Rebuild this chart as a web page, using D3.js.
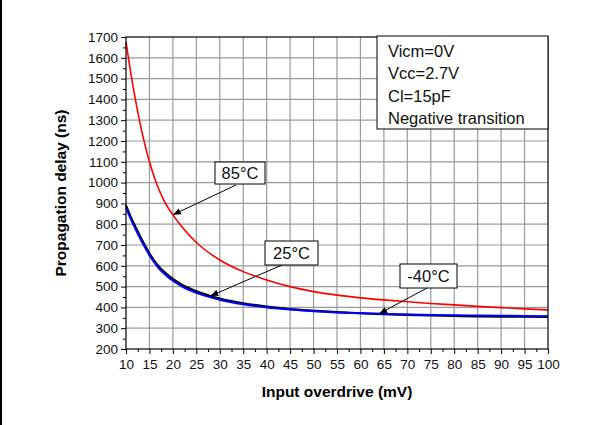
<!DOCTYPE html>
<html>
<head>
<meta charset="utf-8">
<script src="https://cdn.jsdelivr.net/npm/d3@7"></script>
<style>
  body { margin: 0; background: #fff; }
  svg { display: block; font-family: "Liberation Sans", Arial, sans-serif; }
</style>
</head>
<body>
<script>
// input overdrive (mV) sample points
var overdrive = [10, 11, 12, 13, 14, 15, 16, 17, 18, 19, 20, 22, 25, 30, 35, 40, 45, 50, 55, 60, 65, 70, 75, 80, 85, 90, 95, 100];
// propagation delay (ns) per temperature
var delay85 = [1675, 1530, 1400, 1285, 1185, 1100, 1028, 968, 918, 878, 845, 785, 712, 628, 572, 532, 500, 476, 459, 446, 436, 427, 419, 412, 405, 399, 393, 388];
var delay25 = [890, 835, 788, 742, 700, 660, 625, 597, 573, 554, 537, 508, 478, 443, 420, 404, 392, 384, 377, 372, 368, 364, 361, 359, 357, 356, 355, 354];
var delayM40 = [880, 826, 778, 732, 690, 651, 617, 588, 565, 545, 528, 500, 470, 437, 415, 400, 390, 382, 376, 372, 369, 366, 364, 362, 361, 360, 359, 358];

var xTicks = d3.range(10, 101, 5);
var yTicks = d3.range(200, 1701, 100);
var infoLines = ["Vicm=0V", "Vcc=2.7V", "Cl=15pF", "Negative transition"];

var width = 609,
    height = 425;

var svg = d3.select("body")
  .append("svg")
  .attr("width", width)
  .attr("height", height);

// black strip at the left edge of the scan
svg.append("rect")
    .attr("x", 0).attr("y", 0)
    .attr("width", 2).attr("height", height)
    .attr("fill", "#000");

var x = d3.scaleLinear().domain([10, 100]).range([126, 548]);
var y = d3.scaleLinear().domain([200, 1700]).range([349, 37]);

// grid
svg.append("g")
  .selectAll("line")
  .data(xTicks.slice(1, -1))
  .enter().append("line")
    .attr("x1", function(d) { return x(d); })
    .attr("x2", function(d) { return x(d); })
    .attr("y1", y(200)).attr("y2", y(1700))
    .attr("stroke", "#9a9a9a")
    .attr("stroke-width", 1.2);

svg.append("g")
  .selectAll("line")
  .data(yTicks.slice(1, -1))
  .enter().append("line")
    .attr("y1", function(d) { return y(d); })
    .attr("y2", function(d) { return y(d); })
    .attr("x1", x(10)).attr("x2", x(100))
    .attr("stroke", "#9a9a9a")
    .attr("stroke-width", 1.2);

// minor ticks
svg.append("g")
    .attr("transform", "translate(0," + y(200) + ")")
    .call(d3.axisBottom(x).tickValues(d3.range(12.5, 100, 5)).tickSize(3).tickFormat(""))
    .call(function(g) { g.select(".domain").remove(); g.selectAll("line").attr("stroke", "#000"); });

svg.append("g")
    .attr("transform", "translate(" + x(10) + ",0)")
    .call(d3.axisLeft(y).tickValues(d3.range(250, 1700, 100)).tickSize(3).tickFormat(""))
    .call(function(g) { g.select(".domain").remove(); g.selectAll("line").attr("stroke", "#000"); });

// major axes
var xAxis = svg.append("g")
    .attr("transform", "translate(0," + y(200) + ")")
    .call(d3.axisBottom(x).tickValues(xTicks).tickFormat(d3.format("d"))
      .tickSize(5).tickSizeOuter(0).tickPadding(5));

var yAxis = svg.append("g")
    .attr("transform", "translate(" + x(10) + ",0)")
    .call(d3.axisLeft(y).tickValues(yTicks).tickFormat(d3.format("d"))
      .tickSize(5).tickSizeOuter(0).tickPadding(3));

[xAxis, yAxis].forEach(function(g) {
  g.select(".domain").remove();
  g.selectAll("line").attr("stroke", "#000");
  g.selectAll("text")
      .attr("font-family", "'Liberation Sans', Arial, sans-serif")
      .attr("font-size", 13.5)
      .attr("fill", "#111");
});

// data lines
var line = d3.line()
    .x(function(d) { return x(d[0]); })
    .y(function(d) { return y(d[1]); })
    .curve(d3.curveMonotoneX);

function pairs(vals) {
  return overdrive.map(function(v, i) { return [v, vals[i]]; });
}

svg.append("path")
    .datum(pairs(delay85))
    .attr("d", line)
    .attr("fill", "none")
    .attr("stroke", "#ff0000")
    .attr("stroke-width", 1.6);

svg.append("path")
    .datum(pairs(delay25))
    .attr("d", line)
    .attr("fill", "none")
    .attr("stroke", "#000")
    .attr("stroke-width", 2.2);

svg.append("path")
    .datum(pairs(delayM40))
    .attr("d", line)
    .attr("fill", "none")
    .attr("stroke", "#0000ff")
    .attr("stroke-width", 2);

// frame
svg.append("rect")
    .attr("x", x(10)).attr("y", y(1700))
    .attr("width", x(100) - x(10)).attr("height", y(200) - y(1700))
    .attr("fill", "none")
    .attr("stroke", "#000")
    .attr("stroke-width", 1.2);

// info box
var info = svg.append("g");
info.append("rect")
    .attr("x", 377).attr("y", 36)
    .attr("width", x(100) - 377).attr("height", 93)
    .attr("fill", "#fff")
    .attr("stroke", "#000")
    .attr("stroke-width", 1);
info.selectAll("text")
  .data(infoLines)
  .enter().append("text")
    .attr("x", 388)
    .attr("y", function(d, i) { return 57 + i * 22.3; })
    .attr("font-size", 16.5)
    .attr("fill", "#111")
    .text(function(d) { return d; });

// arrow head
svg.append("defs").append("marker")
    .attr("id", "arrow")
    .attr("viewBox", "0 0 10 10")
    .attr("refX", 10).attr("refY", 5)
    .attr("markerWidth", 8).attr("markerHeight", 8)
    .attr("markerUnits", "userSpaceOnUse")
    .attr("orient", "auto")
  .append("path")
    .attr("d", "M0,1 L10,5 L0,9 Z")
    .attr("fill", "#000");

// temperature labels with arrows (box x,y,w,h; arrow tip at data point)
var callouts = [
  { text: "85\u00b0C", box: [215, 162, 50, 22], from: [236, 185], to: [20, 845] },
  { text: "25\u00b0C", box: [265, 241, 53, 24], from: [282, 265], to: [28, 455] },
  { text: "-40\u00b0C", box: [400, 264, 57, 24], from: [427, 288], to: [64, 370] }
];

callouts.forEach(function(c) {
  svg.append("line")
      .attr("x1", c.from[0]).attr("y1", c.from[1])
      .attr("x2", x(c.to[0])).attr("y2", y(c.to[1]))
      .attr("stroke", "#000")
      .attr("stroke-width", 1)
      .attr("marker-end", "url(#arrow)");
  svg.append("rect")
      .attr("x", c.box[0]).attr("y", c.box[1])
      .attr("width", c.box[2]).attr("height", c.box[3])
      .attr("fill", "#fff")
      .attr("stroke", "#000")
      .attr("stroke-width", 1);
  svg.append("text")
      .attr("x", c.box[0] + c.box[2] / 2)
      .attr("y", c.box[1] + c.box[3] / 2 + 6)
      .attr("text-anchor", "middle")
      .attr("font-size", 16.5)
      .attr("fill", "#111")
      .text(c.text);
});

// axis titles
svg.append("text")
    .attr("x", (x(10) + x(100)) / 2)
    .attr("y", 397)
    .attr("text-anchor", "middle")
    .attr("font-size", 15.5)
    .attr("font-weight", "bold")
    .attr("fill", "#000")
    .text("Input overdrive (mV)");

svg.append("text")
    .attr("transform", "translate(66," + (y(950)) + ") rotate(-90)")
    .attr("text-anchor", "middle")
    .attr("font-size", 15.5)
    .attr("font-weight", "bold")
    .attr("fill", "#000")
    .text("Propagation delay (ns)");

// cut-off text at the top edge
svg.append("text")
    .attr("x", 182)
    .attr("y", -3)
    .attr("font-size", 17)
    .attr("fill", "#000")
    .text("gg");
</script>
</body>
</html>
